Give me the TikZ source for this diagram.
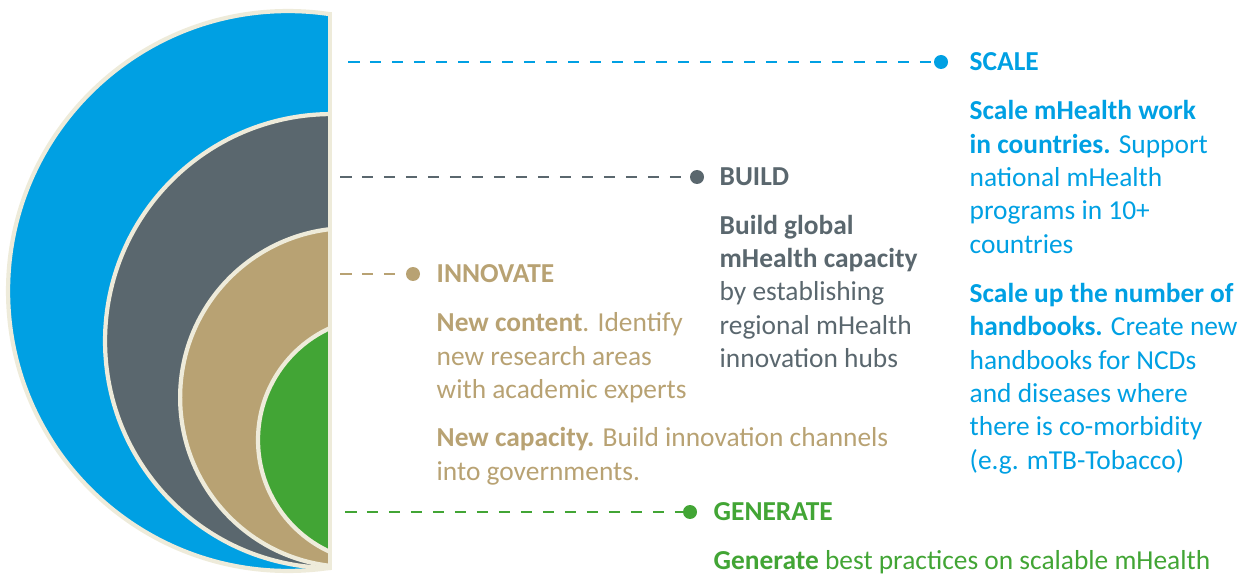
\documentclass[tikz,border=0pt]{standalone}
\usepackage{fontspec}
\setmainfont{Carlito}
\usetikzlibrary{positioning}
\definecolor{scaleblue}{HTML}{00A0E3}
\definecolor{buildgray}{HTML}{5A676E}
\definecolor{innovtan}{HTML}{B8A273}
\definecolor{genergreen}{HTML}{42A535}
\definecolor{cream}{HTML}{EEEBDA}
\newcommand{\firstrule}{\rule{0pt}{12pt}}

\begin{document}
\begin{tikzpicture}
  [x=0.02cm,y=-0.02cm,
   ring/.style={fill=#1,draw=cream,line width=2.4pt},
   dot/.style={circle,fill=#1,inner sep=0pt,minimum size=2.8mm},
   link/.style={draw=#1,line width=1.1pt,dash pattern=on 2.3mm off 2.1mm},
   title/.style={text=#1,inner sep=0pt,
                 font=\fontsize{15.6}{19}\selectfont\bfseries},
   body/.style={text=#1,inner sep=0pt,align=left,anchor=north west,
                font=\fontsize{15.6}{19}\selectfont}]
  \useasboundingbox (0,0) rectangle (1255,574);

  % nested half discs
  \begin{scope}
    \clip (-20,-20) rectangle (331,600);
    \draw[ring=scaleblue]  (288,291)   circle[radius=5.6cm];
    \draw[ring=buildgray]  (332,341)   circle[radius=4.54cm];
    \draw[ring=innovtan]   (349.6,397.5) circle[radius=3.39cm];
    \draw[ring=genergreen] (381,440)   circle[radius=2.46cm];
  \end{scope}
  \draw[cream,line width=2.8pt] (330,12) -- (330,570);

  % dots and leaders
  \coordinate (scale start)    at (348,62);
  \coordinate (build start)    at (340,177);
  \coordinate (innovate start) at (340,274);
  \coordinate (generate start) at (345,512);
  \node[dot=scaleblue]  (scale dot)    at (941,62)  {};
  \node[dot=buildgray]  (build dot)    at (697,177) {};
  \node[dot=innovtan]   (innovate dot) at (413,274) {};
  \node[dot=genergreen] (generate dot) at (690,512) {};

  \draw[link=scaleblue]  (scale start)    -- (scale dot);
  \draw[link=buildgray]  (build start)    -- (build dot);
  \draw[link=innovtan]   (innovate start) -- (innovate dot);
  \draw[link=genergreen] (generate start) -- (generate dot);

  % titles
  \node[title=scaleblue]  (scale title)    [right=0.42cm of scale dot]    {SCALE};
  \node[title=buildgray]  (build title)    [right=0.3cm of build dot]     {BUILD};
  \node[title=innovtan]   (innovate title) [right=0.32cm of innovate dot] {INNOVATE};
  \node[title=genergreen] (generate title) [right=0.32cm of generate dot] {GENERATE};

  % texts (first baseline 12pt below the node top)
  \node[body=scaleblue] (scale text)
       [below=15.6pt of scale title.base west,anchor=north west]
       {\firstrule\textbf{Scale mHealth work}\\
        \textbf{in countries.} Support\\
        national mHealth\\
        programs in 10+\\
        countries\\[9pt]
        \textbf{Scale up the number of}\\
        \textbf{handbooks.} Create new\\
        handbooks for NCDs\\
        and diseases where\\
        there is co-morbidity\\
        (e.g. mTB-Tobacco)};
  \node[body=buildgray] (build text)
       [below=15.3pt of build title.base west,anchor=north west]
       {\firstrule\textbf{Build global}\\
        \textbf{mHealth capacity}\\
        by establishing\\
        regional mHealth\\
        innovation hubs};
  \node[body=innovtan] (innovate text)
       [below=15.6pt of innovate title.base west,anchor=north west]
       {\firstrule\textbf{New content}. Identify\\
        new research areas\\
        with academic experts\\[8.5pt]
        \textbf{New capacity.} Build innovation channels\\
        into governments.};
  \node[body=genergreen] (generate text)
       [below=15.3pt of generate title.base west,anchor=north west]
       {\firstrule\textbf{Generate} best practices on scalable mHealth};
\end{tikzpicture}
\end{document}
